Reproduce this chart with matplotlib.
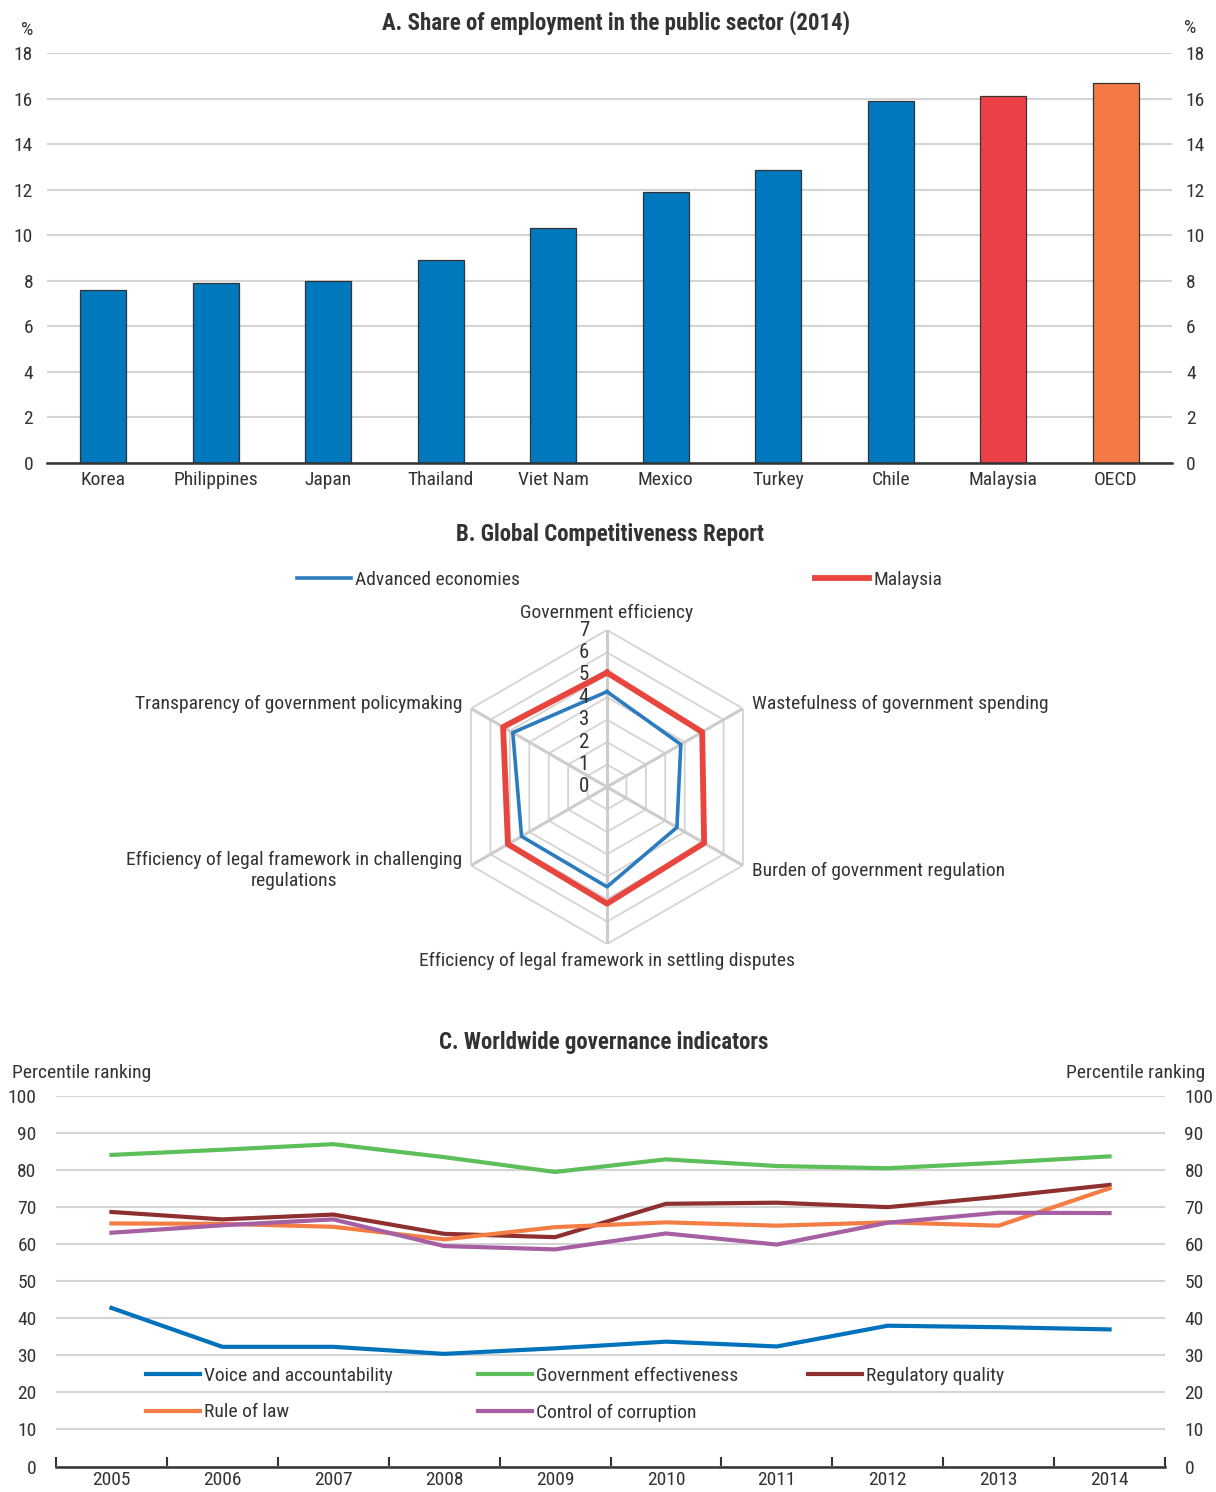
import numpy as np
import matplotlib
matplotlib.use("Agg")
import matplotlib.pyplot as plt
from matplotlib import font_manager
from matplotlib.lines import Line2D

# pick a narrow family if one is there, the original uses a condensed grotesque
have = {(f.name, f.stretch) for f in font_manager.fontManager.ttflist}
names = {n for n, s in have}
narrow = None
for cand in ['Liberation Sans Narrow', 'Roboto Condensed', 'Open Sans Condensed',
             'DejaVu Sans Condensed']:
    if cand in names:
        narrow = cand
        break
if narrow is None:
    for cand in ['Roboto', 'Open Sans', 'DejaVu Sans']:
        if any(n == cand and s not in ('normal', 400, 500) for n, s in have):
            narrow = cand
            plt.rcParams['font.stretch'] = 'condensed'
            break
if narrow is None:
    narrow = 'Liberation Sans'
plt.rcParams['font.family'] = [narrow, 'DejaVu Sans']
plt.rcParams['font.size'] = 14
plt.rcParams['text.color'] = '#333333'
plt.rcParams['xtick.color'] = '#333333'
plt.rcParams['ytick.color'] = '#333333'

# Panel A data
countries = ["Korea", "Philippines", "Japan", "Thailand", "Viet Nam", "Mexico",
             "Turkey", "Chile", "Malaysia", "OECD"]
public_share = [7.6, 7.9, 8.0, 8.9, 10.3, 11.9, 12.85, 15.9, 16.1, 16.7]

# Panel B data
gcr_labels = ["Government efficiency", "Wastefulness of government spending",
              "Burden of government regulation",
              "Efficiency of legal framework in settling disputes",
              "Efficiency of legal framework in challenging\nregulations",
              "Transparency of government policymaking"]
advanced = [4.25, 3.8, 3.6, 4.45, 4.4, 4.85]
malaysia = [5.1, 4.9, 5.0, 5.2, 5.1, 5.35]

# Panel C data
years = ["2005", "2006", "2007", "2008", "2009", "2010", "2011", "2012", "2013", "2014"]
voice = [42.8, 32.3, 32.3, 30.4, 31.9, 33.7, 32.4, 38.0, 37.6, 37.0]
gov_eff = [84.1, 85.5, 87.0, 83.5, 79.5, 82.9, 81.1, 80.5, 82.0, 83.7]
regulatory = [68.7, 66.7, 68.0, 62.8, 61.9, 70.9, 71.2, 70.0, 72.8, 76.0]
rule_of_law = [65.6, 65.5, 64.7, 61.3, 64.6, 65.9, 65.0, 65.9, 65.0, 75.1]
corruption = [63.1, 65.1, 66.7, 59.5, 58.6, 62.9, 59.9, 65.8, 68.5, 68.4]

W, H = 1216, 1492
fig = plt.figure(figsize=(W / 100, H / 100), dpi=100)


def box(x0, y0, x1, y1):
    # pixel box -> figure fraction rect
    return [x0 / W, 1 - y1 / H, (x1 - x0) / W, (y1 - y0) / H]


grid_col = '#d4d4d4'

# ---------------- Panel A ----------------
axA = fig.add_axes(box(47, 53, 1172, 463))
bar_cols = ['#0078bd'] * 8 + ['#ee4047', '#f37a45']
axA.bar(range(len(countries)), public_share, width=0.41, color=bar_cols,
        edgecolor='#333333', linewidth=0.9, zorder=3)
axA.set_xlim(-0.5, len(countries) - 0.5)
axA.set_ylim(0, 18)
axA.set_yticks(range(0, 19, 2))
axA.yaxis.grid(True, color=grid_col, linewidth=1.5, zorder=0)
axA.set_xticks(range(len(countries)))
axA.set_xticklabels(countries, fontsize=14)
axA.tick_params(axis='x', length=0, pad=6)
axA.tick_params(axis='y', length=0, pad=10, labelsize=14, labelright=True)
for s in ['top', 'left', 'right']:
    axA.spines[s].set_visible(False)
axA.spines['bottom'].set_color('#333333')
axA.spines['bottom'].set_linewidth(1.8)
axA.spines['bottom'].set_zorder(4)
fig.text(27 / W, 1 - 30 / H, "%", ha='center', va='center', fontsize=14)
fig.text(1190 / W, 1 - 28 / H, "%", ha='center', va='center', fontsize=14)
fig.text(616 / W, 1 - 23 / H, "A. Share of employment in the public sector (2014)",
         ha='center', va='center', fontsize=16.5, fontweight='bold')

# ---------------- Panel B ----------------
axB = fig.add_axes(box(450, 630, 764, 944), projection='polar')
axB.set_theta_zero_location('N')
axB.set_theta_direction(-1)
axB.set_ylim(0, 7)
axB.grid(False)
axB.spines['polar'].set_visible(False)
axB.set_xticks([])
axB.set_yticks([])
axB.patch.set_alpha(0)
ang = np.linspace(0, 2 * np.pi, len(gcr_labels), endpoint=False)
ang_c = np.append(ang, ang[0])
for r in range(1, 8):
    axB.plot(ang_c, [r] * len(ang_c), color='#d4d4d4', linewidth=1.3, zorder=1)
for a in ang:
    axB.plot([a, a], [0, 7], color='#cccccc', linewidth=2.2, zorder=1)
axB.plot(ang_c, advanced + advanced[:1], color='#2b7bbf', linewidth=2.6, zorder=3)
axB.plot(ang_c, malaysia + malaysia[:1], color='#e8453e', linewidth=4.2, zorder=4)
for r in range(0, 8):
    axB.annotate(str(r), xy=(0, r), xytext=(-13, 0), textcoords='offset points',
                 ha='right', va='center', fontsize=15, zorder=5)
lab_pos = [(7.35, 'center', 'bottom'), (7.45, 'left', 'center'),
           (7.45, 'left', 'center'), (7.35, 'center', 'top'),
           (7.45, 'right', 'center'), (7.45, 'right', 'center')]
for a, lab, (r, ha, va) in zip(ang, gcr_labels, lab_pos):
    axB.text(a, r, lab, ha=ha, va=va, fontsize=14, multialignment='center',
             clip_on=False)
fig.text(610 / W, 1 - 535 / H, "B. Global Competitiveness Report",
         ha='center', va='center', fontsize=16.5, fontweight='bold')
for lab, col, lw, xpix in [("Advanced economies", '#2b7bbf', 2.6, 297),
                           ("Malaysia", '#e8453e', 4.2, 815)]:
    fig.legend(handles=[Line2D([], [], color=col, linewidth=lw)], labels=[lab],
               loc='center left', bbox_to_anchor=(xpix / W, 1 - 580 / H),
               frameon=False, fontsize=14, handlelength=2.8, handletextpad=0.2,
               borderpad=0, borderaxespad=0)

# ---------------- Panel C ----------------
axC = fig.add_axes(box(56, 1096, 1165, 1466.5))
x = np.arange(len(years))
series = [(voice, '#0072bc', "Voice and accountability"),
          (gov_eff, '#5cbf5a', "Government effectiveness"),
          (regulatory, '#8e3030', "Regulatory quality"),
          (rule_of_law, '#f47d44', "Rule of law"),
          (corruption, '#a65fa3', "Control of corruption")]
lines = []
for vals, col, lab in series:
    ln, = axC.plot(x, vals, color=col, linewidth=3, label=lab, zorder=3)
    lines.append(ln)
axC.set_xlim(-0.5, len(years) - 0.5)
axC.set_ylim(0, 100)
axC.set_yticks(range(0, 101, 10))
axC.yaxis.grid(True, color=grid_col, linewidth=1.5, zorder=0)
axC.set_xticks(x)
axC.set_xticklabels(years, fontsize=14)
axC.set_xticks(np.arange(-0.5, len(years)), minor=True)
axC.tick_params(axis='x', which='major', length=0, pad=3)
axC.tick_params(axis='x', which='minor', direction='in', length=7, width=1.5,
                color='#333333')
axC.tick_params(axis='y', length=0, pad=14, labelsize=14, labelright=True)
for s in ['top', 'left', 'right']:
    axC.spines[s].set_visible(False)
axC.spines['bottom'].set_color('#333333')
axC.spines['bottom'].set_linewidth(1.8)
# one legend per column: (voice, rule), (gov eff, corruption), (regulatory)
for idx, xpix in [([0, 3], 146), ([1, 4], 478), ([2], 808)]:
    leg = fig.legend(handles=[lines[i] for i in idx],
                     labels=[series[i][2] for i in idx],
                     loc='upper left', bbox_to_anchor=(xpix / W, 1 - 1367 / H),
                     frameon=False, fontsize=14, handlelength=2.8,
                     handletextpad=0.2, borderpad=0, borderaxespad=0,
                     labelspacing=0.95)
fig.text(12 / W, 1 - 1073 / H, "Percentile ranking", ha='left', va='center', fontsize=14)
fig.text(1205 / W, 1 - 1073 / H, "Percentile ranking", ha='right', va='center', fontsize=14)
fig.text(604 / W, 1 - 1043 / H, "C. Worldwide governance indicators",
         ha='center', va='center', fontsize=16.5, fontweight='bold')

fig.savefig("out.png", dpi=100)
